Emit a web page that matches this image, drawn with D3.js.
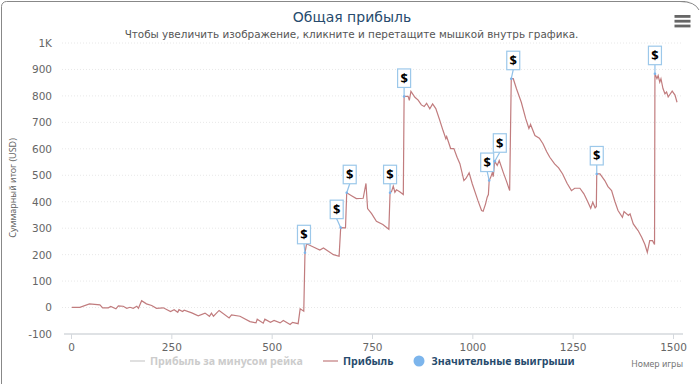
<!DOCTYPE html>
<html>
<head>
<meta charset="utf-8">
<script src="https://cdn.jsdelivr.net/npm/d3@7"></script>
<style>
  html, body { margin: 0; padding: 0; background: #fff; overflow: hidden; }
  text { font-family: "DejaVu Sans", sans-serif; }
  .narrow { font-family: "Noto Sans", sans-serif; }
</style>
</head>
<body>
<div id="content"></div>
<script>
const svg_width = 700;
const svg_height = 384;

// values
const games = [2,22,46,72,79,93,99,112,118,130,139,147,155,164,168,176,188,201,213,230,248,257,266,269,278,282,301,317,334,345,350,355,369,394,400,421,446,461,464,479,483,497,506,521,529,546,552,566,571,580,583,587,620,629,654,668,672,684,687,699,711,728,735,739,749,761,777,792,795,799,803,807,811,819,828,830,840,843,847,857,865,873,880,886,894,901,909,918,927,934,936,946,954,962,969,979,984,992,1000,1014,1023,1027,1033,1037,1040,1042,1046,1050,1052,1056,1062,1067,1077,1085,1093,1097,1102,1110,1122,1133,1141,1145,1156,1167,1176,1185,1193,1205,1215,1225,1236,1247,1255,1268,1278,1287,1295,1300,1306,1309,1310,1318,1330,1338,1347,1355,1363,1374,1378,1389,1393,1401,1413,1422,1430,1436,1442,1449,1454,1455,1460,1463,1467,1470,1475,1480,1484,1488,1498,1505,1510];
const profit = [1,1,14,10,-1,-1,4,-5,6,5,-3,1,-3,5,-3,26,14,8,-3,-1,-15,-8,-18,-8,-15,-10,-20,-31,-21,-33,-21,-33,-11,-39,-28,-33,-53,-58,-44,-59,-44,-56,-49,-58,-49,-64,-56,-61,-5,-14,207,241,217,225,200,194,302,301,434,423,412,413,469,374,355,326,314,296,434,440,459,436,445,438,427,798,798,783,817,795,784,766,760,772,751,770,752,712,669,638,646,601,601,568,544,480,488,509,467,404,367,364,392,417,427,480,493,511,495,553,537,556,511,478,442,865,865,827,776,714,677,692,650,640,619,590,568,543,528,505,470,442,451,451,430,402,375,398,377,382,505,505,480,457,442,402,367,341,363,348,354,316,291,266,238,209,253,253,238,884,865,877,852,865,828,808,815,796,818,803,776];
const winGames = [583,672,687,795,830,1042,1056,1097,1310,1455];
const winValues = [207,302,434,434,798,480,553,865,505,884];
const yTicks = [-100,0,100,200,300,400,500,600,700,800,900,1000];
const xTicks = [0,250,500,750,1000,1250,1500];

var svg = d3.select("#content")
    .append("svg")
    .attr("width", svg_width)
    .attr("height", svg_height)
    .style("display", "block");

// card outline
svg.append("rect")
    .attr("x", 1.5)
    .attr("y", 1.5)
    .attr("width", svg_width + 20)
    .attr("height", svg_height + 20)
    .attr("rx", 5)
    .attr("fill", "#fff")
    .attr("stroke", "#888");
svg.append("path")
    .attr("d", "M685 1.5 Q697 1.5 699 10 L699 384 L720 384 L720 0 L685 0 Z")
    .attr("fill", "#fff");
svg.append("path")
    .attr("d", "M680 1.5 Q695 1.5 699 10")
    .attr("fill", "none")
    .attr("stroke", "#888");

var xScale = d3.scaleLinear().domain([0, 1500]).range([71, 673]);
var yScale = d3.scaleLinear().domain([-100, 1000]).range([334, 43]);

// grid
svg.append("g")
    .selectAll("line")
    .data(yTicks.filter(d => d > -100))
    .join("line")
    .attr("x1", 62)
    .attr("x2", 683)
    .attr("y1", d => yScale(d))
    .attr("y2", d => yScale(d))
    .attr("stroke", "#e8e8e8")
    .attr("stroke-dasharray", "1,2");

// axes
var xAxis = d3.axisBottom(xScale).tickValues(xTicks).tickSize(5).tickPadding(5).tickFormat(d => d);
var yAxis = d3.axisLeft(yScale).tickValues(yTicks).tickSize(0).tickPadding(10)
    .tickFormat(d => d === 1000 ? "1K" : d);

var bottomAxis = svg.append("g")
    .attr("transform", "translate(0, 334)")
    .call(xAxis);
bottomAxis.select(".domain").remove();
bottomAxis.append("line")
    .attr("x1", 64)
    .attr("x2", 683)
    .attr("stroke", "#d4d8dd")
    .attr("stroke-width", 1.5);
bottomAxis.selectAll(".tick line").attr("stroke", "#d4d8dd");
bottomAxis.selectAll("text")
    .style("font-size", "10.5px")
    .attr("fill", "#666");

var leftAxis = svg.append("g")
    .attr("transform", "translate(62, 0)")
    .call(yAxis);
leftAxis.select(".domain").remove();
leftAxis.selectAll("text")
    .style("font-size", "10.5px")
    .attr("fill", "#666");

// titles
svg.append("text")
    .attr("x", 352)
    .attr("y", 22)
    .attr("text-anchor", "middle")
    .attr("fill", "#274b6d")
    .style("font-size", "14px")
    .text("Общая прибыль");
svg.append("text")
    .attr("x", 351.5)
    .attr("y", 38)
    .attr("text-anchor", "middle")
    .attr("fill", "#555")
    .style("font-size", "10.4px")
    .text("Чтобы увеличить изображение, кликните и перетащите мышкой внутрь графика.");
svg.append("text")
    .attr("class", "narrow")
    .attr("transform", "translate(16, 188) rotate(-90)")
    .attr("text-anchor", "middle")
    .attr("fill", "#666")
    .style("font-size", "9px")
    .text("Суммарный итог (USD)");
svg.append("text")
    .attr("class", "narrow")
    .attr("x", 683)
    .attr("y", 367)
    .attr("text-anchor", "end")
    .attr("fill", "#777")
    .style("font-size", "8.7px")
    .text("Номер игры");

// menu icon
svg.append("g")
    .selectAll("rect")
    .data([0, 1, 2])
    .join("rect")
    .attr("x", 674.5)
    .attr("y", d => 15 + d * 4.8)
    .attr("width", 16)
    .attr("height", 2.8)
    .attr("fill", "#666");

// line
var line = d3.line()
    .x((d, i) => xScale(games[i]))
    .y(d => yScale(d));
svg.append("path")
    .attr("d", line(profit))
    .attr("fill", "none")
    .attr("stroke", "#c17c7e")
    .attr("stroke-width", 1.2);

// flags, a couple pushed sideways so they do not sit on each other
const flagShift = [-1, -4, 3, 0, 0, -2, 5, 2, 0, 0];
const flagW = 13, flagH = 18.5, flagGap = 9;
var flags = svg.append("g")
    .selectAll("g")
    .data(winGames)
    .join("g");
flags.append("line")
    .attr("x1", (d, i) => xScale(d))
    .attr("y1", (d, i) => yScale(winValues[i]))
    .attr("x2", (d, i) => xScale(d) + flagShift[i])
    .attr("y2", (d, i) => yScale(winValues[i]) - flagGap)
    .attr("stroke", "#8fc0e8")
    .attr("stroke-width", 1.2);
flags.append("circle")
    .attr("cx", d => xScale(d))
    .attr("cy", (d, i) => yScale(winValues[i]))
    .attr("r", 1.3)
    .attr("fill", "#7cb5ec");
flags.append("rect")
    .attr("x", (d, i) => xScale(d) + flagShift[i] - flagW / 2)
    .attr("y", (d, i) => yScale(winValues[i]) - flagGap - flagH)
    .attr("width", flagW)
    .attr("height", flagH)
    .attr("fill", "#fff")
    .attr("stroke", "#9cc8ea")
    .attr("stroke-width", 1.2);
flags.append("text")
    .attr("class", "narrow")
    .attr("x", (d, i) => xScale(d) + flagShift[i])
    .attr("y", (d, i) => yScale(winValues[i]) - flagGap - flagH / 2 + 4.5)
    .attr("text-anchor", "middle")
    .attr("fill", "#000")
    .style("font-size", "13px")
    .style("font-weight", "bold")
    .text("$");

// legend
var legend = svg.append("g");
legend.append("line")
    .attr("x1", 130).attr("x2", 145).attr("y1", 361).attr("y2", 361)
    .attr("stroke", "#ccc").attr("stroke-width", 1.2);
legend.append("text")
    .attr("class", "narrow")
    .attr("x", 150).attr("y", 365)
    .attr("fill", "#ccc")
    .style("font-size", "10.6px").style("font-weight", "bold")
    .text("Прибыль за минусом рейка");
legend.append("line")
    .attr("x1", 323).attr("x2", 338).attr("y1", 361).attr("y2", 361)
    .attr("stroke", "#c17c7e").attr("stroke-width", 1.2);
legend.append("text")
    .attr("class", "narrow")
    .attr("x", 343).attr("y", 365)
    .attr("fill", "#274b6d")
    .style("font-size", "10.6px").style("font-weight", "bold")
    .text("Прибыль");
legend.append("circle")
    .attr("cx", 419).attr("cy", 361).attr("r", 5.5)
    .attr("fill", "#7cb5ec");
legend.append("text")
    .attr("class", "narrow")
    .attr("x", 431.5).attr("y", 365)
    .attr("fill", "#274b6d")
    .style("font-size", "10.6px").style("font-weight", "bold")
    .text("Значительные выигрыши");
</script>
</body>
</html>
